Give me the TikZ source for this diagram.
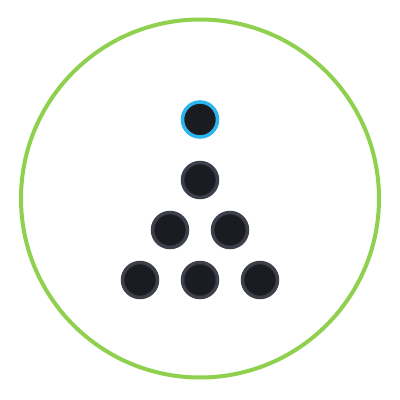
\documentclass[tikz,border=0pt]{standalone}
\definecolor{ring}{HTML}{8FD14F}
\definecolor{dotfill}{HTML}{1B1C22}
\definecolor{dotedge}{HTML}{3D404A}
\definecolor{sel}{HTML}{2BB6EF}
\begin{document}
\begin{tikzpicture}[x=1pt,y=-1pt,
  dot/.style={circle,minimum size=35pt,inner sep=0pt,fill=dotfill,draw=dotedge,line width=3.5pt},
  seldot/.style={dot,draw=sel}]
\useasboundingbox (0,0) rectangle (400,400);
\fill[white] (0,0) rectangle (400,400);
\node[draw=ring,line width=4pt,circle,minimum size=358pt,inner sep=0pt] (ring) at (200,198.5) {};
\node[seldot] (d0) at (200,119.5) {};
\node[dot] (d1) at (200,180) {};
\node[dot] (d2) at (170,230) {};
\node[dot] (d3) at (230,230) {};
\node[dot] (d4) at (140,280) {};
\node[dot] (d5) at (200,280) {};
\node[dot] (d6) at (260,280) {};
\end{tikzpicture}
\end{document}
